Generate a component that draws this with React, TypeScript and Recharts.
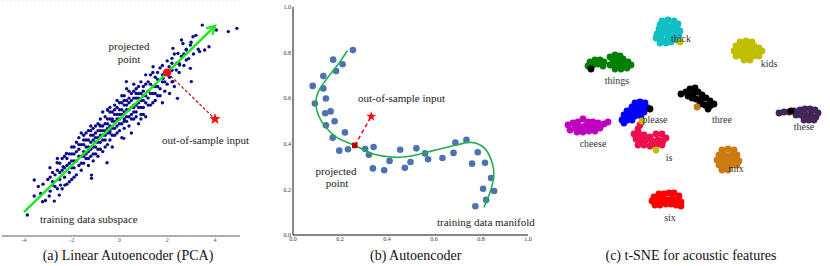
import React from 'react';
import { ScatterChart, Scatter, XAxis, YAxis, CartesianGrid } from 'recharts';

const serif = '"Liberation Serif", "DejaVu Serif", serif';

// ---- (a) linear autoencoder: 2-D cloud around a line ----
const pcaCloud: [number, number][] = [
  [-3.4, -2.9], [-3.1, -3.5], [-3.0, -2.6], [-2.9, -3.1], [-2.8, -2.3], [-2.7, -2.9], [-2.6, -2.2], [-2.6, -3.0],
  [-2.5, -1.9], [-2.5, -2.6], [-2.4, -2.2], [-2.4, -3.0], [-2.3, -1.6], [-2.3, -2.5], [-2.2, -2.0], [-2.2, -2.8],
  [-2.1, -1.5], [-2.1, -2.3], [-2.0, -1.8], [-2.0, -2.6], [-2.0, -1.2], [-1.9, -2.1], [-1.9, -1.5], [-1.8, -1.0],
  [-1.8, -1.8], [-1.8, -2.4], [-1.7, -1.3], [-1.7, -2.0], [-1.7, -0.8], [-1.6, -1.6], [-1.6, -2.2], [-1.6, -1.1],
  [-1.5, -1.4], [-1.5, -0.7], [-1.5, -1.9], [-1.4, -1.2], [-1.4, -0.9], [-1.4, -1.7], [-1.3, -0.5], [-1.3, -1.4],
  [-1.3, -2.0], [-1.2, -1.0], [-1.2, -0.7], [-1.2, -1.6], [-1.1, -0.4], [-1.1, -1.2], [-1.1, -0.9], [-1.0, -1.5],
  [-1.0, -0.6], [-1.0, -1.0], [-0.9, -0.2], [-0.9, -0.8], [-0.9, -1.3], [-0.8, -0.5], [-0.8, -1.0], [-0.8, 0.0],
  [-0.7, -0.7], [-0.7, -1.4], [-0.7, -0.3], [-0.6, 0.1], [-0.6, -0.9], [-0.6, -0.5], [-0.5, -0.2], [-0.5, -1.1],
  [-0.5, 0.4], [-0.4, -0.6], [-0.4, 0.0], [-0.4, -0.9], [-0.3, 0.3], [-0.3, -0.4], [-0.3, -1.2], [-0.2, -0.1],
  [-0.2, 0.6], [-0.2, -0.7], [-0.1, 0.2], [-0.1, -0.3], [-0.1, 0.8], [0.0, -0.5], [0.0, 0.4], [0.0, 0.0],
  [0.1, 0.7], [0.1, -0.2], [0.1, -0.8], [0.2, 0.3], [0.2, 1.0], [0.2, -0.4], [0.3, 0.1], [0.3, 0.6],
  [0.3, 1.3], [0.4, 0.4], [0.4, -0.3], [0.4, 0.9], [0.5, 0.2], [0.5, 1.1], [0.5, -0.6], [0.6, 0.6],
  [0.6, 1.5], [0.6, 0.0], [0.7, 0.9], [0.7, 0.3], [0.7, 1.3], [0.8, 0.5], [0.8, -0.2], [0.8, 1.1],
  [0.9, 0.8], [0.9, 1.6], [0.9, 0.2], [1.0, 1.0], [1.0, 0.5], [1.0, 1.4], [1.1, 0.7], [1.1, 1.9],
  [1.1, 0.1], [1.2, 1.2], [1.2, 0.9], [1.3, 1.5], [1.3, 0.6], [1.4, 1.1], [1.4, 2.0], [1.5, 1.4],
  [1.5, 0.8], [1.6, 1.7], [1.6, 1.0], [1.7, 2.2], [1.7, 1.3], [1.8, 1.6], [1.8, 0.7], [1.9, 2.0],
  [1.9, 1.2], [2.0, 1.5], [2.0, 2.5], [2.1, 1.8], [2.1, 1.1], [2.2, 2.1], [2.3, 1.4], [2.3, 2.8],
  [2.4, 2.4], [2.5, 2.0], [2.6, 2.7], [2.6, 3.4], [2.7, 2.3], [2.8, 3.0], [2.9, 2.6], [3.0, 3.3],
  [3.1, 2.8], [3.2, 3.6], [3.3, 3.0],
  [-1.9, -1.2], [-1.6, -0.6], [-1.4, -1.5], [-1.2, -0.3], [-1.0, -0.3], [-0.9, -1.0], [-0.8, -0.3], [-0.6, -0.2],
  [-0.5, -0.6], [-0.4, 0.3], [-0.3, -0.1], [-0.2, 0.2], [-0.1, -0.6], [0.0, 0.7], [0.1, 0.2], [0.2, 0.0],
  [0.3, 0.8], [0.4, 0.1], [0.5, 0.5], [0.6, 0.3], [0.7, 0.6], [0.8, 0.9], [0.9, 0.5], [1.0, 0.8],
  [-2.2, -1.7], [-2.0, -2.1], [-1.7, -1.6], [-1.5, -1.1], [-1.3, -0.9], [-1.1, -1.5], [-0.7, 0.3], [-0.4, -0.3],
  [0.2, 0.6], [0.6, 0.9], [1.2, 1.6], [1.4, 0.7], [1.5, 1.8], [1.8, 2.3],
  [-3.2, -2.8], [-2.9, -2.5], [-2.7, -2.4], [-2.5, -2.3], [-2.4, -1.7], [-2.3, -2.1], [-2.1, -1.9], [-2.1, -2.7],
  [-1.9, -1.8], [-1.9, -2.5], [-1.8, -1.4], [-1.7, -1.1], [-1.6, -1.9], [-1.5, -1.6], [-1.5, -0.9], [-1.4, -0.6],
  [-1.3, -1.2], [-1.3, -1.7], [-1.2, -1.3], [-1.2, -0.5], [-1.1, -0.7], [-1.1, -1.8], [-1.0, -1.2], [-1.0, -0.8],
  [-0.9, -0.5], [-0.9, -1.6], [-0.8, -0.7], [-0.8, -1.3], [-0.7, -0.5], [-0.7, -0.9], [-0.6, -0.7], [-0.6, -1.2],
  [-0.5, 0.0], [-0.5, -0.4], [-0.4, 0.5], [-0.4, -0.5], [-0.3, 0.0], [-0.3, -0.7], [-0.2, -0.4], [-0.2, 0.4],
  [-0.1, 0.0], [-0.1, 0.5], [0.0, 0.2], [0.0, -0.2], [0.1, 0.4], [0.1, 1.0], [0.2, 0.8], [0.2, -0.1],
  [0.3, 0.4], [0.3, -0.1], [0.4, 0.7], [0.4, 1.2], [0.5, 0.8], [0.5, 0.0], [0.6, 1.2], [0.6, 0.5],
  [0.7, 0.1], [0.7, 1.1], [0.8, 0.7], [0.8, 1.4], [0.9, 1.1], [0.9, 0.0], [1.0, 1.2], [1.0, 0.2],
  [1.1, 1.0], [1.1, 1.5], [1.2, 0.6], [1.3, 1.1], [1.3, 1.9], [1.4, 1.4], [1.5, 1.1], [1.6, 1.4],
  [1.6, 2.0], [1.7, 1.0], [1.8, 1.9], [1.9, 1.6], [2.0, 1.9], [2.2, 1.6], [2.2, 2.4], [2.5, 2.4],
  [2.7, 2.8], [-2.8, -2.7], [-3.3, -3.2], [-2.6, -1.7], [-2.0, -1.5],
];

const pcaOutliers: [number, number][] = [
  [-3.86, -4.13], [-3.57, -2.62], [-3.57, -3.31], [-3.22, -3.56], [-2.94, -3.31], [-2.73, -3.53], [-2.52, -3.27],
  [-2.8, -2.84], [-2.47, -2.84], [-2.29, -2.84], [-2.91, -2.09], [-2.61, -1.88], [-2.36, -2.05], [-2.22, -1.48],
  [-1.17, -2.41], [-1.17, -2.55], [-0.52, -1.88], [0.18, -0.83], [0.29, 1.61], [-0.5, 0.39], [-0.82, -0.26],
  [3.47, 4.04], [4.06, 3.83], [4.56, 3.76], [4.92, 3.9], [3.36, 2.9], [3.57, 2.97], [3.75, 3.11], [3.08, 3.54],
  [2.97, 3.18], [2.8, 2.97], [2.66, 3.25], [2.45, 2.82], [2.24, 3.04], [2.2, 2.61], [2.08, 2.25], [2.38, 2.11],
  [2.52, 2.32], [2.8, 2.54], [2.97, 2.18], [3.01, 1.61], [2.43, 0.89], [1.83, 1.75], [1.41, 2.25], [2.24, 1.61],
];

const subspaceEnds: [number, number][] = [[-4, -4], [4, 4]];
const pcaProjected: [number, number] = [2, 2];
const pcaOutside: [number, number] = [4, 0];
const pcaTicks = [-4, -2, 0, 2, 4];

// ---- (b) nonlinear autoencoder: samples near a curve ----
const aeSamples: [number, number][] = [
  [0.255, 0.811], [0.171, 0.769], [0.211, 0.749], [0.129, 0.697], [0.183, 0.719], [0.084, 0.654], [0.129, 0.643],
  [0.14, 0.599], [0.093, 0.577], [0.16, 0.542], [0.137, 0.534], [0.177, 0.499], [0.14, 0.481], [0.221, 0.45],
  [0.169, 0.427], [0.197, 0.37], [0.234, 0.376], [0.307, 0.377], [0.343, 0.386], [0.323, 0.352], [0.34, 0.292],
  [0.388, 0.284], [0.411, 0.325], [0.456, 0.374], [0.476, 0.295], [0.5, 0.32], [0.525, 0.38], [0.562, 0.358],
  [0.575, 0.332], [0.636, 0.338], [0.683, 0.36], [0.691, 0.406], [0.738, 0.417], [0.786, 0.363], [0.762, 0.313],
  [0.817, 0.317], [0.843, 0.25], [0.809, 0.203], [0.856, 0.193], [0.822, 0.154], [0.776, 0.126],
];

const aeManifold: [number, number][] = [
  [0.231, 0.808], [0.2, 0.76], [0.164, 0.712], [0.129, 0.665], [0.108, 0.629], [0.098, 0.592], [0.101, 0.548],
  [0.122, 0.497], [0.157, 0.453], [0.2, 0.42], [0.263, 0.393], [0.327, 0.361], [0.398, 0.344], [0.455, 0.341],
  [0.525, 0.351], [0.596, 0.37], [0.667, 0.387], [0.738, 0.405], [0.78, 0.402], [0.816, 0.38], [0.841, 0.336],
  [0.854, 0.285], [0.851, 0.234], [0.837, 0.183], [0.823, 0.146], [0.812, 0.121],
];
const aeProjected: [number, number] = [0.263, 0.393];
const aeOutside: [number, number] = [0.333, 0.52];
const aeTicks = [0, 0.2, 0.4, 0.6, 0.8, 1.0];

// ---- (c) t-SNE embedding of acoustic features, one list per word ----
const thick: [number, number][] = [
  [112, 21], [118, 20], [124, 21], [128, 24], [110, 25], [116, 25], [122, 26], [127, 28], [109, 29], [114, 30],
  [120, 30], [126, 32], [130, 31], [107, 34], [112, 34], [118, 35], [124, 36], [129, 36], [106, 38], [111, 39],
  [117, 40], [122, 40], [127, 40], [110, 43], [116, 43], [121, 42],
];
const kids: [number, number][] = [
  [190, 42], [196, 41], [202, 42], [186, 46], [192, 46], [198, 46], [204, 46], [209, 48], [184, 51], [190, 51],
  [196, 51], [202, 51], [208, 52], [212, 51], [186, 56], [192, 56], [198, 56], [204, 56], [209, 56], [194, 60],
  [200, 60], [130, 42], [92, 121], [106, 150],
];
const things: [number, number][] = [
  [40, 62], [45, 60], [50, 60], [54, 62], [38, 66], [43, 65], [48, 64], [53, 66],
  [60, 57], [65, 55], [70, 56], [63, 61], [68, 60], [73, 59], [78, 62], [60, 65], [65, 65], [70, 64], [75, 65],
  [81, 65], [65, 69], [71, 69], [77, 68],
];
const three: [number, number][] = [
  [131, 94], [136, 92], [140, 89], [145, 88], [138, 96], [143, 94], [148, 92], [152, 95], [146, 99], [151, 100],
  [156, 98], [160, 101], [150, 104], [155, 105], [160, 106], [164, 104], [158, 109], [142, 98],
  [41, 69], [241, 111], [100, 109],
];
const these: [number, number][] = [
  [229, 113], [234, 112], [239, 112], [244, 111], [246, 115], [250, 110], [255, 109], [260, 109], [265, 110],
  [268, 113], [251, 115], [256, 115], [261, 115], [266, 117], [254, 120], [259, 120], [264, 120],
];
const please: [number, number][] = [
  [85, 103], [90, 102], [95, 103], [82, 107], [88, 107], [94, 107], [98, 108], [77, 111], [83, 111], [89, 111],
  [94, 112], [74, 115], [79, 115], [85, 116], [91, 116], [72, 120], [77, 120], [82, 120], [74, 123],
];
const cheese: [number, number][] = [
  [18, 125], [23, 123], [28, 122], [33, 119], [38, 122], [43, 122], [48, 123], [54, 124], [58, 122], [20, 130],
  [25, 128], [30, 127], [35, 126], [40, 127], [45, 127], [50, 128], [27, 132], [33, 132], [39, 131], [45, 131],
];
const is: [number, number][] = [
  [90, 125], [88, 129], [84, 134], [89, 134], [94, 135], [100, 137], [106, 134], [112, 134], [116, 138], [86, 139],
  [91, 140], [96, 140], [102, 141], [108, 140], [113, 141], [88, 145], [94, 145], [100, 146], [106, 145], [112, 145],
];
const mix: [number, number][] = [
  [172, 150], [178, 149], [184, 150], [169, 155], [175, 155], [181, 155], [187, 155], [167, 160], [173, 160],
  [179, 160], [185, 160], [189, 161], [169, 165], [175, 165], [181, 165], [187, 165], [172, 170], [178, 170],
  [147, 107],
];
const six: [number, number][] = [
  [104, 197], [109, 194], [114, 194], [119, 193], [124, 193], [129, 196], [102, 201], [107, 200], [112, 200],
  [117, 200], [122, 199], [127, 200], [131, 202], [105, 205], [110, 205], [116, 204], [121, 204], [126, 205],
  [131, 206],
];
const wordLabels = ['thick', 'kids', 'things', 'three', 'these', 'please', 'cheese', 'is', 'mix', 'six'];
const wordLabelAt: [number, number][] = [
  [131, 38], [219, 63], [67, 80], [172, 119], [254, 126], [105, 119], [43, 143], [119, 157], [186, 168], [120, 217],
];

const xy = (pts: [number, number][]) => pts.map(([x, y]) => ({ x, y }));

const starPoints = (cx: number, cy: number, r: number) => {
  const pts: string[] = [];
  for (let i = 0; i < 10; i++) {
    const rad = i % 2 === 0 ? r : r * 0.42;
    const a = -Math.PI / 2 + (i * Math.PI) / 5;
    pts.push(`${cx + rad * Math.cos(a)},${cy + rad * Math.sin(a)}`);
  }
  return pts.join(' ');
};

const Nothing = () => <g />;

const dot = (r: number, fill: string) => (p: any) => <circle cx={p.cx} cy={p.cy} r={r} fill={fill} />;

const Note = ({ left, top, children, center }: any) => (
  <div
    style={{
      position: 'absolute', left, top, fontFamily: serif, fontSize: 11, lineHeight: '12px',
      color: '#222', whiteSpace: 'nowrap', textAlign: center ? 'center' : 'left',
      transform: center ? 'translateX(-50%)' : undefined,
    }}
  >
    {children}
  </div>
);

const Caption = ({ left, width, children }: any) => (
  <div
    style={{
      position: 'absolute', left, width, top: 248, textAlign: 'center', fontFamily: serif,
      fontSize: 14, lineHeight: '16px', color: '#111', whiteSpace: 'nowrap',
    }}
  >
    {children}
  </div>
);

const tsneSeries: { pts: [number, number][]; color: string }[] = [
  { pts: thick, color: '#12bfc4' },
  { pts: things, color: '#008000' },
  { pts: these, color: '#432657' },
  { pts: please, color: '#0000ff' },
  { pts: cheese, color: '#bf00bf' },
  { pts: is, color: '#ee0f4c' },
  { pts: six, color: '#ff0000' },
  { pts: kids, color: '#bfbf00' },
  { pts: three, color: '#000000' },
  { pts: mix, color: '#cc7a12' },
];

export default function App() {
  const labelData = wordLabels.map((w, i) => ({ x: wordLabelAt[i][0], y: wordLabelAt[i][1], word: w }));

  return (
    <div style={{ position: 'absolute', left: 0, top: 0, width: 830, height: 266, background: '#fff', overflow: 'hidden' }}>
      {/* (a) */}
      <div style={{ position: 'absolute', left: 0, top: 0 }}>
        <ScatterChart width={260} height={250} margin={{ top: 0, right: 20, left: 2, bottom: 0 }}>
          <CartesianGrid vertical={false} stroke="#d6d6d6" strokeDasharray="2 2" />
          <XAxis
            type="number" dataKey="x" domain={[-4.92, 5.05]} ticks={pcaTicks} height={14}
            tickLine={false} tickSize={2} tickMargin={0} stroke="#666" tick={{ fontSize: 6, fill: '#555' }}
            allowDataOverflow
          />
          <YAxis
            type="number" dataKey="y" domain={[-5.03, 5.12]} ticks={pcaTicks} width={0}
            tick={false} tickLine={false} stroke="#666" allowDataOverflow
          />
          <Scatter data={xy(pcaCloud)} shape={dot(1.7, '#0b0b8c')} isAnimationActive={false} />
          <Scatter data={xy(pcaOutliers)} shape={dot(1.7, '#0b0b8c')} isAnimationActive={false} />
          <Scatter
            data={xy(subspaceEnds).map((d, i) => ({ ...d, head: i === 1 }))}
            line={{ stroke: '#22e622', strokeWidth: 2.5 }}
            lineType="joint"
            shape={(p: any) =>
              p.payload && p.payload.head ? (
                <polyline
                  points={`${p.cx - 8.7},${p.cy + 2.2} ${p.cx},${p.cy} ${p.cx - 2.4},${p.cy + 8.7}`}
                  fill="none" stroke="#22e622" strokeWidth={2.5}
                />
              ) : (
                <g />
              )
            }
            isAnimationActive={false}
          />
          <Scatter
            data={xy([pcaProjected, pcaOutside])}
            line={{ stroke: '#a81414', strokeWidth: 1.2, strokeDasharray: '3 2' }}
            lineType="joint"
            shape={Nothing}
            isAnimationActive={false}
          />
          <Scatter data={xy([pcaProjected])} shape={dot(4, '#ff0a0a')} isAnimationActive={false} />
          <Scatter
            data={xy([pcaOutside])}
            shape={(p: any) => <polygon points={starPoints(p.cx, p.cy, 6)} fill="#ff0a0a" />}
            isAnimationActive={false}
          />
        </ScatterChart>
      </div>
      <Note left={129} top={40} center>projected</Note>
      <Note left={129} top={53} center>point</Note>
      <Note left={162} top={134}>out-of-sample input</Note>
      <Note left={40} top={213}>training data subspace</Note>
      <Caption left={0} width={256}>(a) Linear Autoencoder (PCA)</Caption>

      {/* (b) */}
      <div style={{ position: 'absolute', left: 262, top: 0 }}>
        <ScatterChart width={275} height={250} margin={{ top: 7, right: 9, left: 0, bottom: 0 }}>
          <XAxis
            type="number" dataKey="x" domain={[0, 1]} ticks={aeTicks} height={15}
            tickFormatter={(v: number) => v.toFixed(1)} tickLine={false} tickSize={2} tickMargin={0}
            stroke="#111" tick={{ fontSize: 6, fill: '#333' }}
          />
          <YAxis
            type="number" dataKey="y" domain={[0, 1]} ticks={aeTicks} width={31}
            tickFormatter={(v: number) => v.toFixed(1)} tickLine={false} tickSize={2} tickMargin={0}
            stroke="#111" tick={{ fontSize: 6, fill: '#333' }}
          />
          <Scatter data={xy(aeSamples)} shape={dot(3.3, '#4c72b0')} isAnimationActive={false} />
          <Scatter
            data={xy(aeManifold)}
            line={{ stroke: '#22b14c', strokeWidth: 1.6 }}
            lineType="joint"
            lineJointType="natural"
            shape={Nothing}
            isAnimationActive={false}
          />
          <Scatter
            data={xy([aeProjected, aeOutside])}
            line={{ stroke: '#e01010', strokeWidth: 1.5, strokeDasharray: '4 3' }}
            lineType="joint"
            shape={Nothing}
            isAnimationActive={false}
          />
          <Scatter
            data={xy([aeProjected])}
            shape={(p: any) => <rect x={p.cx - 2.8} y={p.cy - 2.8} width={5.6} height={5.6} fill="#b80000" />}
            isAnimationActive={false}
          />
          <Scatter
            data={xy([aeOutside])}
            shape={(p: any) => <polygon points={starPoints(p.cx, p.cy, 5.2)} fill="#ff0a0a" />}
            isAnimationActive={false}
          />
        </ScatterChart>
      </div>
      <Note left={358} top={92}>out-of-sample input</Note>
      <Note left={336} top={165} center>projected</Note>
      <Note left={337} top={177} center>point</Note>
      <Note left={437} top={216}>training data manifold</Note>
      <Caption left={370} width={90}>(b) Autoencoder</Caption>

      {/* (c) */}
      <div style={{ position: 'absolute', left: 550, top: 0 }}>
        <ScatterChart width={280} height={240} margin={{ top: 0, right: 0, left: 0, bottom: 0 }}>
          <XAxis type="number" dataKey="x" domain={[0, 280]} hide />
          <YAxis type="number" dataKey="y" domain={[0, 240]} reversed hide />
          {tsneSeries.map((s, i) => (
            <Scatter key={i} data={xy(s.pts)} shape={dot(3.4, s.color)} isAnimationActive={false} />
          ))}
          <Scatter
            data={labelData}
            shape={(p: any) => (
              <text
                x={p.cx} y={p.cy} textAnchor="middle" dominantBaseline="central"
                fontSize={10} fontFamily={serif} fill="#333"
              >
                {p.payload.word}
              </text>
            )}
            isAnimationActive={false}
          />
        </ScatterChart>
      </div>
      <Caption left={600} width={182}>(c) t-SNE for acoustic features</Caption>
    </div>
  );
}
